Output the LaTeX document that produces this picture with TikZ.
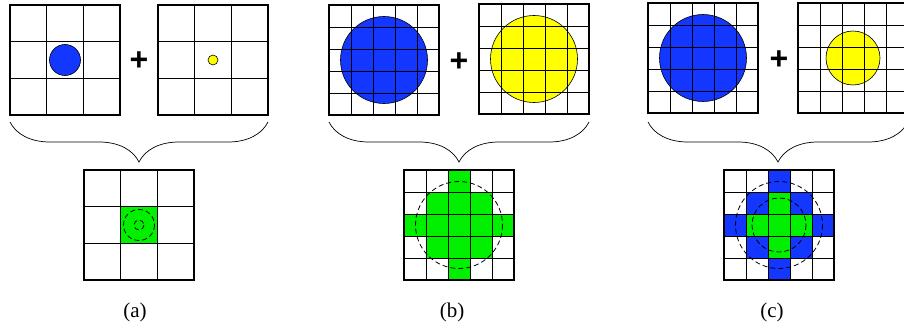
\documentclass[tikz,border=0pt]{standalone}
\usepackage{fontspec}
\setmainfont{Liberation Serif}
\setsansfont{Liberation Sans}
\usetikzlibrary{decorations.pathreplacing}

\definecolor{cblue}{RGB}{20,55,255}
\definecolor{cyellow}{RGB}{255,255,0}
\definecolor{cgreen}{RGB}{0,240,0}

\tikzset{
  gridline/.style={line width=0.6pt},
  gridframe/.style={line width=1.6pt},
  disc/.style={draw=black, line width=0.6pt},
  ghost/.style={line width=0.8pt, dash pattern=on 5pt off 3pt},
  plussign/.style={font=\sffamily\bfseries\fontsize{32}{32}\selectfont},
  caption/.style={font=\fontsize{21}{22}\selectfont},
  cbrace/.style={decorate, decoration={brace, amplitude=40pt, mirror}, line width=0.7pt}
}

% grid of n x n cells, top left corner at (#1,#2), side 110
\newcommand{\cellgrid}[3]{%
  \pgfmathsetmacro{\cw}{110/#3}
  \pgfmathtruncatemacro{\nm}{#3-1}
  \foreach \i in {1,...,\nm} {
    \draw[gridline] ({#1+\i*\cw},#2) -- ++(0,110);
    \draw[gridline] (#1,{#2+\i*\cw}) -- ++(110,0);
  }
  \draw[gridframe] (#1,#2) rectangle ++(110,110);
}

\begin{document}
\begin{tikzpicture}[x=1pt, y=-1pt]

\useasboundingbox (0,0) rectangle (904,329);

% ---------------- (a) ----------------
\fill[cblue, disc] (65,60) circle (15.5);
\cellgrid{10}{5}{3}
\node[plussign] (pa) at (139,61) {+};
\fill[cyellow, disc] (213,60) circle (5);
\cellgrid{158}{5}{3}

\coordinate (ba1) at (10,122);
\coordinate (ba2) at (268,122);
\draw[cbrace] (ba1) -- (ba2);

% result
\fill[cgreen] ({84+110/3},{170+110/3}) rectangle ++({110/3},{110/3});
\cellgrid{84}{170}{3}
\draw[ghost] (139,225) circle (15.5);
\draw[ghost] (139,225) circle (5);

\node[caption] (la) at (135,312) {(a)};

% ---------------- (b) ----------------
\fill[cblue, disc] (384,60) circle (43.5);
\cellgrid{329}{5}{5}
\node[plussign] (pb) at (459,62) {+};
\fill[cyellow, disc] (534,59) circle (43.5);
\cellgrid{479}{4}{5}

\coordinate (bb1) at (329,122);
\coordinate (bb2) at (589,122);
\draw[cbrace] (bb1) -- (bb2);

% result
\foreach \c/\r in {2/0,1/1,2/1,3/1,0/2,1/2,2/2,3/2,4/2,1/3,2/3,3/3,2/4}
  \fill[cgreen] ({404+\c*22},{170+\r*22}) rectangle ++(22,22);
\cellgrid{404}{170}{5}
\draw[ghost] (459,225) circle (43.5);

\node[caption] (lb) at (452,312) {(b)};

% ---------------- (c) ----------------
\fill[cblue, disc] (703,58) circle (43.5);
\cellgrid{648}{3}{5}
\node[plussign] (pc) at (779,60) {+};
\fill[cyellow, disc] (853,58) circle (27);
\cellgrid{798}{3}{5}

\coordinate (bc1) at (648,122);
\coordinate (bc2) at (908,122);
\draw[cbrace] (bc1) -- (bc2);

% result
\foreach \c/\r in {2/0,1/1,3/1,0/2,4/2,1/3,3/3,2/4}
  \fill[cblue] ({724+\c*22},{170+\r*22}) rectangle ++(22,22);
\foreach \c/\r in {2/1,1/2,2/2,3/2,2/3}
  \fill[cgreen] ({724+\c*22},{170+\r*22}) rectangle ++(22,22);
\cellgrid{724}{170}{5}
\draw[ghost] (779,225) circle (43.5);
\draw[ghost] (779,225) circle (27);

\node[caption] (lc) at (772,312) {(c)};

\end{tikzpicture}
\end{document}
